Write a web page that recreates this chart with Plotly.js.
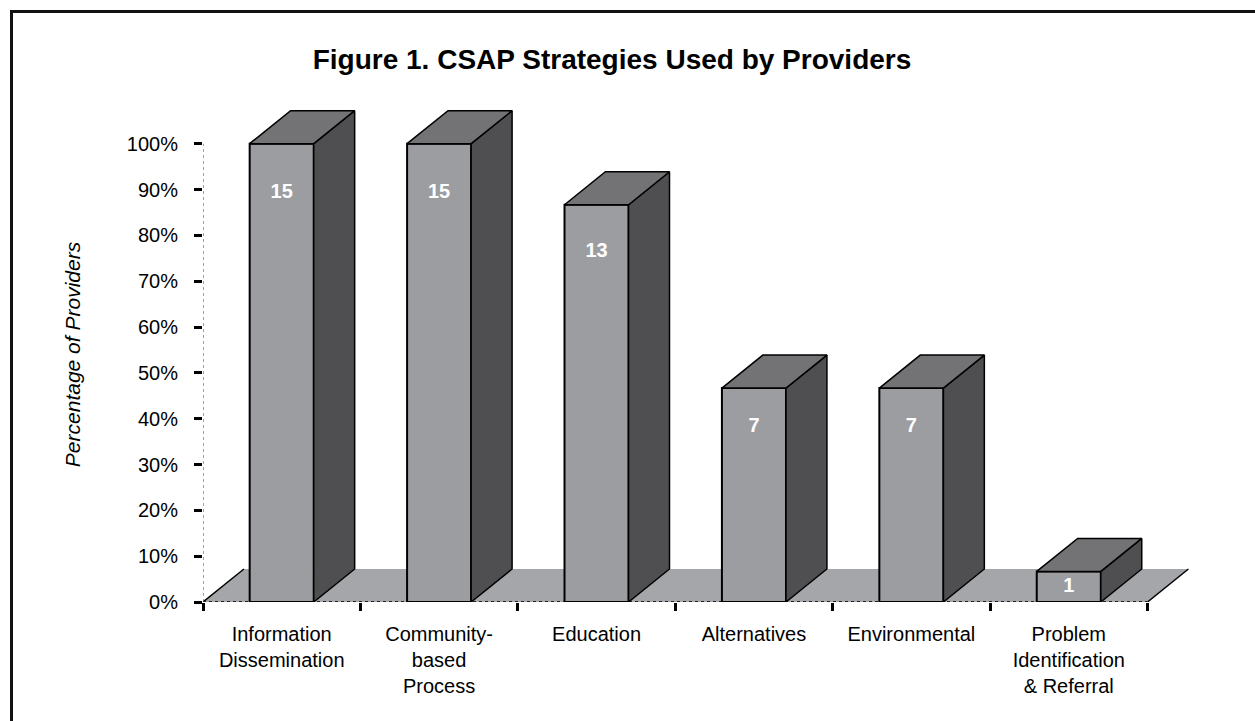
<!DOCTYPE html>
<html>
<head>
<meta charset="utf-8">
<script src="https://cdn.plot.ly/plotly-3.0.1.min.js"></script>
<style>
  html, body { margin: 0; padding: 0; background: #fff; }
  #chart { width: 1255px; height: 721px; }
</style>
</head>
<body>
<div id="chart"></div>
<script>
// ---- data ----
const categories = [
  'Information<br>Dissemination',
  'Community-<br>based<br>Process',
  'Education',
  'Alternatives',
  'Environmental',
  'Problem<br>Identification<br>& Referral'
];
const providerCounts = [15, 15, 13, 7, 7, 1];
const totalProviders = 15;
const yTickVals = [0, 10, 20, 30, 40, 50, 60, 70, 80, 90, 100];
const yTickText = ['0%', '10%', '20%', '30%', '40%', '50%', '60%', '70%', '80%', '90%', '100%'];

// ---- style / geometry ----
const BAR_W = 0.407;      // bar width in category units
const DX = 0.26;          // 3D depth offset in x (category units)
const DY = 7.2;           // 3D depth offset in y (percent units)
const COL_FRONT = '#9c9da1';
const COL_TOP = '#737376';
const COL_SIDE = '#4f4f52';
const COL_FLOOR = '#a5a6a9';
const FONT = 'Liberation Sans, Arial, sans-serif';

const xs = categories.map((_, i) => i);
const pct = providerCounts.map(c => c / totalProviders * 100);
const nCat = categories.length;

// side and top faces computed from values
const sideX = [], sideY = [], topX = [], topY = [];
xs.forEach((c, i) => {
  const v = pct[i];
  const xl = c - BAR_W / 2, xr = c + BAR_W / 2;
  sideX.push(xr, xr + DX, xr + DX, xr, xr, null);
  sideY.push(0, DY, v + DY, v, 0, null);
  topX.push(xl, xr, xr + DX, xl + DX, xl, null);
  topY.push(v, v, v + DY, v + DY, v, null);
});

// value labels placed inside the front face, near its top
const labelY = pct.map(v => v - Math.min(v / 2, 6.5 + 0.043 * v));

const traces = [
  {
    type: 'bar', x: xs, y: pct, width: BAR_W,
    marker: { color: COL_FRONT, line: { color: '#000', width: 2 } },
    hoverinfo: 'skip', showlegend: false
  },
  {
    type: 'scatter', mode: 'lines', x: sideX, y: sideY, fill: 'toself',
    fillcolor: COL_SIDE, line: { color: '#000', width: 1.5 },
    hoverinfo: 'skip', showlegend: false
  },
  {
    type: 'scatter', mode: 'lines', x: topX, y: topY, fill: 'toself',
    fillcolor: COL_TOP, line: { color: '#000', width: 1.5 },
    hoverinfo: 'skip', showlegend: false
  },
  {
    type: 'scatter', mode: 'text', x: xs, y: labelY,
    text: providerCounts.map(String),
    textfont: { family: FONT, size: 20, color: '#fff', weight: 'bold' },
    hoverinfo: 'skip', showlegend: false
  }
];

const xMin = -0.5, xMax = nCat - 0.5;
const boundaries = [];
for (let i = 0; i <= nCat; i++) boundaries.push(i - 0.5);

const M = { l: 203, r: 65, t: 107, b: 119 };
const plotW = 1255 - M.l - M.r, plotH = 721 - M.t - M.b;
const px2paperX = px => (px - M.l) / plotW;
const py2paperY = py => (721 - M.b - py) / plotH;

const shapes = [
  // floor
  {
    type: 'path', xref: 'x', yref: 'y', layer: 'below',
    path: `M ${xMin},0 L ${xMax},0 L ${xMax + DX},${DY} L ${xMin + DX},${DY} Z`,
    fillcolor: COL_FLOOR, line: { width: 0 }
  },
  { type: 'line', xref: 'x', yref: 'y', layer: 'below', x0: xMin, y0: 0, x1: xMin + DX, y1: DY, line: { color: '#000', width: 1.5 } },
  { type: 'line', xref: 'x', yref: 'y', layer: 'below', x0: xMax, y0: 0, x1: xMax + DX, y1: DY, line: { color: '#000', width: 1.5 } },
  { type: 'line', xref: 'x', yref: 'y', layer: 'below', x0: xMin, y0: 0, x1: xMax, y1: 0, line: { color: '#222', width: 2, dash: 'dot' } },
  // dotted wall edge along y axis
  { type: 'line', xref: 'x', yref: 'y', layer: 'below', x0: xMin, y0: 0, x1: xMin, y1: 100, line: { color: '#444', width: 1, dash: 'dot' } },
  // outer frame (left + top edges)
  {
    type: 'path', xref: 'paper', yref: 'paper', layer: 'above',
    path: `M ${px2paperX(11.5)},${py2paperY(730)} L ${px2paperX(11.5)},${py2paperY(11.5)} L ${px2paperX(1265)},${py2paperY(11.5)}`,
    line: { color: '#111', width: 3 }
  }
];

const layout = {
  width: 1255, height: 721,
  margin: M,
  paper_bgcolor: '#fff', plot_bgcolor: 'rgba(0,0,0,0)',
  showlegend: false,
  title: {
    text: '<b>Figure 1. CSAP Strategies Used by Providers</b>',
    font: { family: FONT, size: 28, color: '#000' },
    x: 612 / 1255, xanchor: 'center', xref: 'container',
    y: 1 - 59 / 721, yanchor: 'middle', yref: 'container'
  },
  xaxis: {
    range: [xMin, xMax + DX + 0.01],
    tickmode: 'array', tickvals: xs, ticktext: categories,
    ticks: 'outside', ticklen: 8, tickcolor: 'rgba(0,0,0,0)',
    ticklabelstandoff: 6,
    minor: { tickmode: 'array', tickvals: boundaries, ticks: 'outside', ticklen: 8, tickwidth: 3, tickcolor: '#000' },
    tickfont: { family: FONT, size: 20, color: '#000' },
    showgrid: false, zeroline: false, showline: false, fixedrange: true
  },
  yaxis: {
    range: [0, 108],
    tickmode: 'array', tickvals: yTickVals, ticktext: yTickText,
    ticks: 'outside', ticklen: 8, tickwidth: 3, tickcolor: '#000',
    ticklabelstandoff: 12,
    tickfont: { family: FONT, size: 20, color: '#000' },
    showgrid: false, zeroline: false, showline: false, fixedrange: true,
    title: {
      text: '<i>Percentage of Providers</i>',
      font: { family: FONT, size: 21, color: '#000' },
      standoff: 40
    }
  },
  shapes: shapes
};

Plotly.newPlot('chart', traces, layout, { displayModeBar: false, staticPlot: true });
</script>
</body>
</html>
